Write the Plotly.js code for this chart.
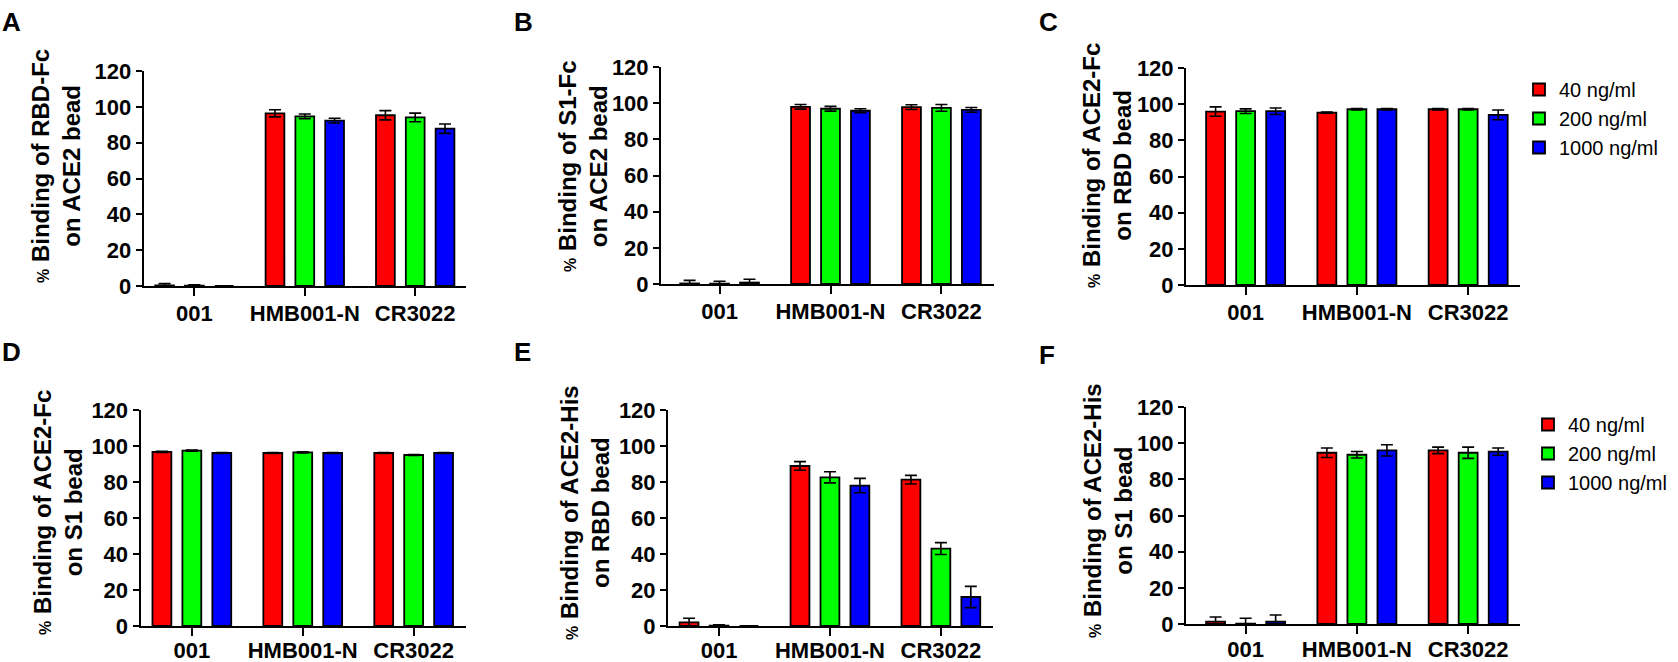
<!DOCTYPE html>
<html>
<head>
<meta charset="utf-8">
<script src="https://cdn.plot.ly/plotly-3.0.1.min.js"></script>
<style>html,body{margin:0;padding:0;background:#fff;overflow:hidden;}#chart{width:1678px;height:662px;}</style>
</head>
<body>
<div id="chart"></div>
<script>
// ---- data ----
const categories = ['001', 'HMB001-N', 'CR3022'];
const concentrations = ['40 ng/ml', '200 ng/ml', '1000 ng/ml'];
const panelLetters = ['A', 'B', 'C', 'D', 'E', 'F'];
const titleLine1 = ['Binding of RBD-Fc', 'Binding of S1-Fc', 'Binding of ACE2-Fc', 'Binding of ACE2-Fc', 'Binding of ACE2-His', 'Binding of ACE2-His'];
const titleLine2 = ['on ACE2 bead', 'on ACE2 bead', 'on RBD bead', 'on S1 bead', 'on RBD bead', 'on S1 bead'];
const yTicks = [0, 20, 40, 60, 80, 100, 120];

// Panel A: RBD-Fc on ACE2 bead
const A40 = [0.3, 96.4, 95.3], A40err = [1.0, 2.0, 2.6];
const A200 = [0.2, 94.7, 94.1], A200err = [0.5, 1.3, 2.4];
const A1000 = [0, 92.3, 87.8], A1000err = [0, 1.3, 2.6];
// Panel B: S1-Fc on ACE2 bead
const B40 = [0.3, 98.0, 97.8], B40err = [1.7, 1.3, 1.3];
const B200 = [0.2, 96.9, 97.4], B200err = [1.3, 1.3, 1.9];
const B1000 = [0.8, 95.8, 96.3], B1000err = [1.8, 1.1, 1.3];
// Panel C: ACE2-Fc on RBD bead
const C40 = [95.9, 95.3, 97.2], C40err = [2.6, 0.3, 0.4];
const C200 = [96.1, 97.2, 97.2], C200err = [1.3, 0.4, 0.4];
const C1000 = [96.1, 97.2, 94.1], C1000err = [1.8, 0.4, 2.7];
// Panel D: ACE2-Fc on S1 bead
const D40 = [96.7, 96.1, 96.1], D40err = [0.3, 0.3, 0.3];
const D200 = [97.4, 96.5, 95.0], D200err = [0.3, 0.3, 0.3];
const D1000 = [96.1, 96.1, 96.1], D1000err = [0.3, 0.3, 0.3];
// Panel E: ACE2-His on RBD bead
const E40 = [2.0, 88.9, 81.3], E40err = [2.3, 2.4, 2.4];
const E200 = [0.2, 82.6, 43.0], E200err = [0.4, 3.1, 3.3];
const E1000 = [0, 78.0, 16.1], E1000err = [0, 4.0, 5.9];
// Panel F: ACE2-His on S1 bead
const F40 = [1.3, 94.7, 96.0], F40err = [2.6, 2.6, 1.8];
const F200 = [0.2, 93.6, 94.7], F200err = [3.0, 1.8, 3.1];
const F1000 = [1.3, 96.0, 95.3], F1000err = [3.7, 3.1, 2.0];

const panelValues = [[A40, A200, A1000], [B40, B200, B1000], [C40, C200, C1000], [D40, D200, D1000], [E40, E200, E1000], [F40, F200, F1000]];
const panelErrors = [[A40err, A200err, A1000err], [B40err, B200err, B1000err], [C40err, C200err, C1000err], [D40err, D200err, D1000err], [E40err, E200err, E1000err], [F40err, F200err, F1000err]];

// ---- layout helpers (pixel geometry of the figure) ----
const W = 1678, H = 662;
const px = v => v / W;
const py = v => 1 - v / H;
const colors = ['#ff0000', '#00ff00', '#0000ff'];
const FONT = 'Liberation Sans, Arial, Helvetica, sans-serif';

// plot boxes in px and x ranges
const boxes = [
  {l: 143.6, r: 466, t: 71, b: 286, xr: [-0.46, 2.46], tx: 56, ty: 166, lx: 0, ly: 5, so: -1},
  {l: 661, r: 994, t: 67, b: 284, xr: [-0.528, 2.474], tx: 583, ty: 166, lx: 512, ly: 5, so: -1},
  {l: 1186, r: 1520, t: 68, b: 285, xr: [-0.536, 2.466], tx: 1107, ty: 166, lx: 1037, ly: 5, so: -1},
  {l: 140.5, r: 466, t: 410, b: 626, xr: [-0.463, 2.472], tx: 58, ty: 513, lx: 0, ly: 335, so: -4},
  {l: 668, r: 993, t: 410, b: 626, xr: [-0.46, 2.47], tx: 585, ty: 513, lx: 512, ly: 335, so: -4},
  {l: 1186, r: 1520, t: 407, b: 624, xr: [-0.536, 2.466], tx: 1108, ty: 511, lx: 1037, ly: 338, so: -3}
];

const data = [];
const legendBase = {xanchor: 'left', yanchor: 'top', font: {family: FONT, size: 20, color: '#000'},
                    bgcolor: 'rgba(0,0,0,0)', traceorder: 'normal', itemwidth: 30};
const layout = {
  width: W, height: H,
  margin: {l: 0, r: 0, t: 0, b: 0},
  paper_bgcolor: '#fff', plot_bgcolor: 'rgba(0,0,0,0)',
  barmode: 'group', bargap: 0.19, bargroupgap: 0.37,
  font: {family: FONT, color: '#000'},
  showlegend: true,
  annotations: [],
  legend: Object.assign({x: px(1519), y: py(70)}, legendBase),
  legend2: Object.assign({x: px(1528), y: py(405)}, legendBase)
};

boxes.forEach((bx, i) => {
  const n = i === 0 ? '' : String(i + 1);
  layout['xaxis' + n] = {
    domain: [px(bx.l), px(bx.r)], anchor: 'y' + n, type: 'category', range: bx.xr,
    showline: true, linecolor: '#000', linewidth: 2,
    ticks: 'outside', ticklen: 8, tickwidth: 2, tickcolor: '#000', ticklabelstandoff: bx.so,
    showgrid: false, zeroline: false, fixedrange: true,
    tickfont: {family: FONT, size: 22, color: '#000', weight: 'bold'}
  };
  layout['yaxis' + n] = {
    domain: [py(bx.b), py(bx.t)], anchor: 'x' + n, range: [0, 120],
    tickvals: yTicks, ticktext: yTicks.map(String),
    showline: true, linecolor: '#000', linewidth: 2,
    ticks: 'outside', ticklen: 6, tickwidth: 2, tickcolor: '#000',
    showgrid: false, zeroline: false, fixedrange: true,
    tickfont: {family: FONT, size: 22, color: '#000', weight: 'bold'}
  };
  concentrations.forEach((c, j) => {
    data.push({
      type: 'bar', name: c, x: categories, y: panelValues[i][j],
      xaxis: 'x' + n, yaxis: 'y' + n,
      marker: {color: colors[j], line: {color: '#000', width: 1.8}},
      error_y: {type: 'data', array: panelErrors[i][j], visible: true, color: '#000', thickness: 1.6, width: 6},
      showlegend: i === 2 || i === 5,
      legend: i === 5 ? 'legend2' : 'legend',
      hoverinfo: 'x+y+name'
    });
  });
  layout.annotations.push({
    xref: 'paper', yref: 'paper', x: px(bx.tx), y: py(bx.ty), xanchor: 'center', yanchor: 'middle',
    textangle: -90, showarrow: false, align: 'center',
    text: '<span style="font-size:16px">%</span> ' + titleLine1[i] + '<br>' + titleLine2[i],
    font: {family: FONT, size: 24, color: '#000', weight: 'bold'}
  });
  layout.annotations.push({
    xref: 'paper', yref: 'paper', x: px(bx.lx), y: py(bx.ly), xanchor: 'left', yanchor: 'top',
    showarrow: false, text: panelLetters[i],
    font: {family: FONT, size: 26, color: '#000', weight: 'bold'}
  });
});

Plotly.newPlot('chart', data, layout, {displayModeBar: false, staticPlot: true});
</script>
</body>
</html>
